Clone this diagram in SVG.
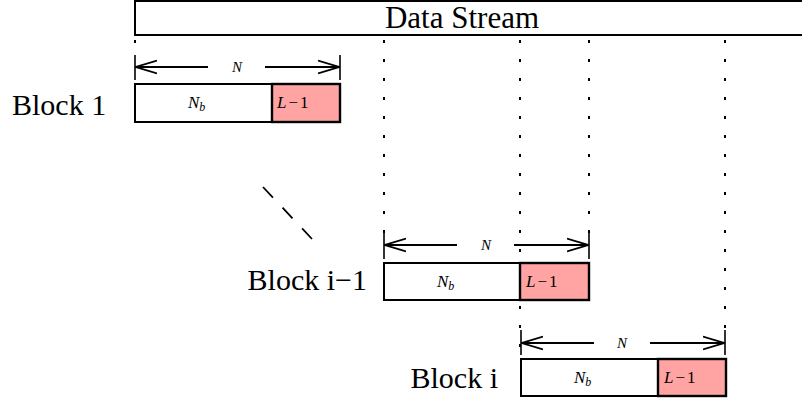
<svg xmlns="http://www.w3.org/2000/svg" width="802" height="402" viewBox="0 0 802 402">
<defs>
<marker id="ah" viewBox="0 0 22 16" refX="21" refY="8" markerWidth="22" markerHeight="16" markerUnits="userSpaceOnUse" orient="auto-start-reverse">
<path d="M0,1.5 L21,8 L0,14.5" fill="none" stroke="#000" stroke-width="1.8"/>
</marker>
<style>
.box{fill:#fff;stroke:#000;stroke-width:2}
.red{fill:#ffa3a3;stroke:#000;stroke-width:2.4}
.lbl{font-family:"Liberation Serif",serif;font-size:30px;fill:#000}
.m{font-family:"Liberation Serif",serif;font-style:italic;font-size:17px;fill:#000}
.mr{font-family:"Liberation Serif",serif;font-style:normal;font-size:17px;fill:#000}
.dot{stroke:#000;stroke-width:2;stroke-dasharray:3 16;fill:none}
.tick{stroke:#000;stroke-width:1.6;fill:none}
.arr{stroke:#000;stroke-width:1.8;fill:none}
</style>
</defs>
<rect width="802" height="402" fill="#fff"/>
<g id="stream">
<rect x="135" y="1" width="700" height="34" class="box"/>
<text x="462" y="28" text-anchor="middle" class="lbl" style="font-size:31px">Data Stream</text>
</g>
<g id="connectors">
<line x1="135" y1="40" x2="135" y2="55" class="dot"/>
<line x1="384" y1="40" x2="384" y2="233" class="dot"/>
<line x1="520" y1="40" x2="520" y2="358" class="dot"/>
<line x1="589" y1="40" x2="589" y2="233" class="dot"/>
<line x1="725" y1="40" x2="725" y2="330" class="dot"/>
<line x1="263" y1="187" x2="312" y2="239" stroke="#000" stroke-width="1.8" stroke-dasharray="14.5 14"/>
</g>
<g id="block1">
<text x="12" y="115" class="lbl">Block 1</text>
<line x1="135" y1="55" x2="135" y2="80" class="tick"/>
<line x1="340" y1="55" x2="340" y2="80" class="tick"/>
<line x1="136" y1="67" x2="208" y2="67" class="arr" marker-start="url(#ah)"/>
<line x1="265" y1="67" x2="339" y2="67" class="arr" marker-end="url(#ah)"/>
<text x="237" y="72" text-anchor="middle" class="m" style="font-size:15px">N</text>
<rect x="135" y="84" width="137" height="38" class="box"/>
<rect x="272" y="84" width="68" height="38" class="red"/>
<text x="188" y="108" class="m">N<tspan style="font-size:12px" dy="3">b</tspan></text>
<text x="277" y="108" class="m">L<tspan class="mr" dx="2">−</tspan><tspan class="mr" dx="2">1</tspan></text>
</g>
<g id="blockim1">
<text x="367" y="290" text-anchor="end" class="lbl">Block i−1</text>
<line x1="384" y1="233" x2="384" y2="259" class="tick"/>
<line x1="589" y1="233" x2="589" y2="259" class="tick"/>
<line x1="385" y1="245" x2="457" y2="245" class="arr" marker-start="url(#ah)"/>
<line x1="514" y1="245" x2="588" y2="245" class="arr" marker-end="url(#ah)"/>
<text x="486" y="250" text-anchor="middle" class="m" style="font-size:15px">N</text>
<rect x="384" y="263" width="136" height="37" class="box"/>
<rect x="520" y="263" width="69" height="37" class="red"/>
<text x="437" y="287" class="m">N<tspan style="font-size:12px" dy="3">b</tspan></text>
<text x="526" y="287" class="m">L<tspan class="mr" dx="2">−</tspan><tspan class="mr" dx="2">1</tspan></text>
</g>
<g id="blocki">
<text x="498" y="388" text-anchor="end" class="lbl">Block i</text>
<line x1="521" y1="330" x2="521" y2="355" class="tick"/>
<line x1="725" y1="330" x2="725" y2="355" class="tick"/>
<line x1="522" y1="343" x2="594" y2="343" class="arr" marker-start="url(#ah)"/>
<line x1="650" y1="343" x2="724" y2="343" class="arr" marker-end="url(#ah)"/>
<text x="622" y="348" text-anchor="middle" class="m" style="font-size:15px">N</text>
<rect x="521" y="359" width="137" height="37" class="box"/>
<rect x="658" y="359" width="68" height="37" class="red"/>
<text x="574" y="383" class="m">N<tspan style="font-size:12px" dy="3">b</tspan></text>
<text x="664" y="383" class="m">L<tspan class="mr" dx="2">−</tspan><tspan class="mr" dx="2">1</tspan></text>
</g>
</svg>
